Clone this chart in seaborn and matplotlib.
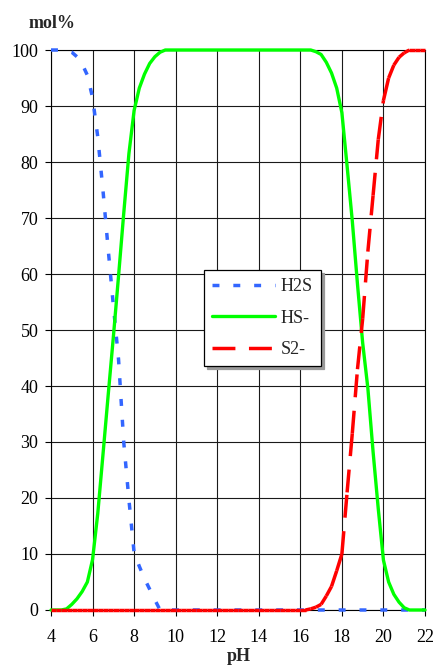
import numpy as np
import pandas as pd
import matplotlib
matplotlib.use("Agg")
import matplotlib.pyplot as plt
from matplotlib.lines import Line2D
import seaborn as sns

# pH grid (0.25 steps from 4 to 22)
ph = np.linspace(4.0, 22.0, 73)

# Species distribution of hydrogen sulfide, mol% (one row per pH unit)
h2s = [100, 100, 100, 99.9,
       99.6, 98.8, 97.5, 95.5,
       91.5, 84.5, 75.0, 64.5,
       54.4, 44.8, 30.0, 19.7,
       10.2, 7.8, 5.6, 3.7,
       1.8, 0, 0, 0,
       0, 0, 0, 0,
       0, 0, 0, 0,
       0, 0, 0, 0,
       0, 0, 0, 0,
       0, 0, 0, 0,
       0, 0, 0, 0,
       0, 0, 0, 0,
       0, 0, 0, 0,
       0, 0, 0, 0,
       0, 0, 0, 0,
       0, 0, 0, 0,
       0, 0, 0, 0,
       0]

hs = [0, 0, 0, 0.2,
      1.0, 2.0, 3.3, 5.0,
      9.0, 17.2, 27.7, 38.3,
      48.7, 59.6, 70.8, 81.5,
      89.2, 93.2, 95.7, 97.6,
      98.8, 99.6, 100, 100,
      100, 100, 100, 100,
      100, 100, 100, 100,
      100, 100, 100, 100,
      100, 100, 100, 100,
      100, 100, 100, 100,
      100, 100, 100, 100,
      100, 100, 100, 99.7,
      99.2, 97.8, 95.9, 93.2,
      88.8, 79.3, 69.5, 58.2,
      47.7, 39.6, 28.3, 18.1,
      8.9, 5.0, 2.8, 1.4,
      0.4, 0, 0, 0,
      0]

s2 = [0, 0, 0, 0,
      0, 0, 0, 0,
      0, 0, 0, 0,
      0, 0, 0, 0,
      0, 0, 0, 0,
      0, 0, 0, 0,
      0, 0, 0, 0,
      0, 0, 0, 0,
      0, 0, 0, 0,
      0, 0, 0, 0,
      0, 0, 0, 0,
      0, 0, 0, 0,
      0, 0, 0.2, 0.5,
      1.0, 2.5, 4.2, 7.0,
      10.0, 21.0, 31.5, 43.0,
      52.0, 64.0, 74.0, 84.0,
      91.0, 95.0, 97.3, 98.7,
      99.5, 100, 100, 100,
      100]

series_names = ["H2S", "HS-", "S2-"]
x_ticks = [4, 6, 8, 10, 12, 14, 16, 18, 20, 22]
y_ticks = [0, 10, 20, 30, 40, 50, 60, 70, 80, 90, 100]

sns.set_style("white")
plt.rcParams["font.family"] = ["Liberation Serif", "DejaVu Serif"]

fig = plt.figure(figsize=(4.35, 6.68), dpi=100)
ax = fig.add_axes([51 / 435, 58 / 668, 374 / 435, 560 / 668])

blue, green, red = "#3366FF", "#00FF00", "#FF0000"
blue_ls = (0, (2.0, 4.0))
red_ls = (0, (6.6, 3.9))

sns.lineplot(x=ph, y=h2s, color=blue, lw=2.5, linestyle=blue_ls,
             clip_on=False, zorder=3, ax=ax)
sns.lineplot(x=ph, y=hs, color=green, lw=2.4, clip_on=False, zorder=3,
             solid_capstyle="round", ax=ax)

# S2- is drawn segment by segment so each segment restarts its dash pattern
rows = []
for i in range(len(ph) - 1):
    rows.append((ph[i], s2[i], i))
    rows.append((ph[i + 1], s2[i + 1], i))
df_s2 = pd.DataFrame(rows, columns=["pH", "mol", "seg"])
sns.lineplot(data=df_s2, x="pH", y="mol", units="seg", estimator=None,
             sort=False, color=red, lw=2.5, linestyle=red_ls,
             clip_on=False, zorder=4, legend=False, ax=ax)

ax.set_xlim(4, 22)
ax.set_ylim(0, 100)
ax.set_xticks(x_ticks)
ax.set_yticks(y_ticks)
ax.set_xticklabels([str(t) for t in x_ticks], fontsize=13)
ax.set_yticklabels([str(t) for t in y_ticks], fontsize=13)
ax.tick_params(axis="y", direction="out", length=4, width=0.8, pad=5,
               left=True, colors="black")
ax.tick_params(axis="x", direction="out", length=4, width=0.8, pad=10,
               bottom=True, colors="black")

ax.grid(True, color="#1a1a1a", lw=0.8)
ax.set_axisbelow(True)
for sp in ax.spines.values():
    sp.set_color("black")
    sp.set_linewidth(0.8)

ax.set_xlabel("pH", fontsize=13, fontweight="bold")
ax.xaxis.set_label_coords(0.503, -0.067)
ax.set_ylabel("mol%", fontsize=13, fontweight="bold", rotation=0,
              ha="center", va="center")
ax.yaxis.set_label_coords(0.003, 1.047)

handles = [
    Line2D([], [], color=blue, lw=2.5, linestyle=blue_ls),
    Line2D([], [], color=green, lw=2.4),
    Line2D([], [], color=red, lw=2.5, linestyle=red_ls),
]
leg = ax.legend(handles, series_names, loc="upper left",
                bbox_to_anchor=(0.409, 0.607), borderaxespad=0,
                fontsize=13, handlelength=3.5, handletextpad=0.3,
                labelspacing=0.8, borderpad=0.45, fancybox=False,
                framealpha=1, edgecolor="black",
                shadow={"color": "0.6", "alpha": 1})
leg.get_frame().set_linewidth(0.9)

fig.savefig("out.png", dpi=100)
